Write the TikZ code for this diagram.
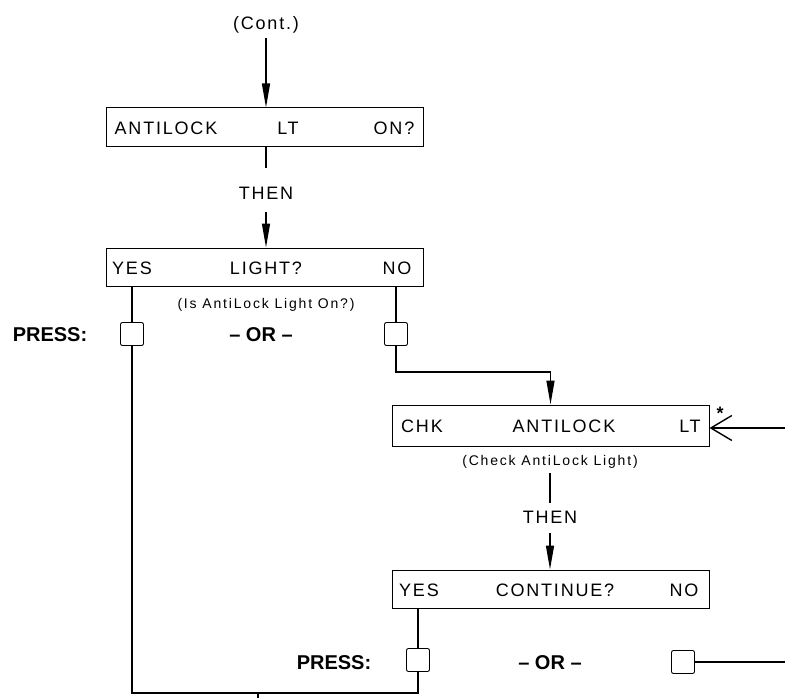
\documentclass[tikz,border=0pt]{standalone}
\usepackage{fontspec}
\setmainfont{Liberation Sans}
\newfontfamily\boxfont[LetterSpace=10]{Liberation Sans}
\newfontfamily\capfont[LetterSpace=13]{Liberation Sans}
\usetikzlibrary{arrows.meta}
\begin{document}
\begin{tikzpicture}[x=1pt,y=-1pt,
  box/.style={draw,line width=1pt,minimum width=317pt,minimum height=39pt,inner sep=0pt},
  sbox/.style={draw,line width=0.9pt,rounded corners=2pt,minimum size=23pt,inner sep=0pt},
  btxt/.style={font=\boxfont\fontsize{18}{20}\selectfont,inner sep=0pt,anchor=base},
  ctxt/.style={font=\capfont\fontsize{14}{16}\selectfont,inner sep=0pt,anchor=base},
  ptxt/.style={font=\bfseries\fontsize{20}{22}\selectfont,inner sep=0pt,anchor=base},
  ln/.style={line width=1.4pt},
  arr/.style={line width=1.4pt,-{Triangle[length=24pt,width=8pt]}},
  barb/.style={line width=1.4pt,-{Straight Barb[length=21pt,width=25pt,line width=1.4pt]}}]
\useasboundingbox (0,0) rectangle (785,698);
% top
\node[btxt] (cont) at (266,30) {(Cont.)};
\coordinate (c1) at (266,38);
\node[box] (b1) at (265,127.5) {};
\node[btxt] (b1a) at (166,134.5) {ANTILOCK};
\node[btxt] (b1b) at (288,134.5) {LT};
\node[btxt] (b1c) at (394,134.5) {ON?};
\draw[arr] (c1) -- (c1 |- b1.north);
\coordinate (t1top) at (266,168);
\node[btxt] (then1) at (266,200) {THEN};
\coordinate (t1bot) at (266,212);
\draw[ln] (t1top |- b1.south) -- (t1top);
% box 2
\node[box,minimum height=38pt] (b2) at (265,267) {};
\draw[arr] (t1bot) -- (t1bot |- b2.north);
\node[btxt] (b2a) at (132,274) {YES};
\node[btxt] (b2b) at (266,274) {LIGHT?};
\node[btxt] (b2c) at (397,274) {NO};
\node[ctxt] (cap2) at (266,308) {(Is AntiLock Light On?)};
\node[ptxt] (press1) at (50,341) {PRESS:};
\node[ptxt] (or1) at (261,341) {– OR –};
\node[sbox] (sb1) at (132,334) {};
\node[sbox] (sb2) at (396,334) {};
\draw[ln] (sb1 |- b2.south) -- (sb1.north);
\draw[ln] (sb2 |- b2.south) -- (sb2.north);
% box 3
\node[box,minimum width=317pt,minimum height=41pt] (b3) at (550.5,425.5) {};
\node[btxt] (b3a) at (422,432.5) {CHK};
\node[btxt] (b3b) at (564,432.5) {ANTILOCK};
\node[btxt] (b3c) at (690,432.5) {LT};
\node[font=\bfseries\fontsize{18}{20}\selectfont,inner sep=0pt] (star) at (720,413) {*};
\coordinate (jn) at (396,372);
\draw[arr] (sb2.south) -- (jn) -| (b3.north);
\coordinate (inr) at (785,428);
\draw[barb] (inr) -- (inr -| b3.east);
\node[ctxt] (cap3) at (550,465) {(Check AntiLock Light)};
\coordinate (t2top) at (550,473);
\coordinate (t2mid) at (550,503);
\node[btxt] (then2) at (550,523.5) {THEN};
\coordinate (t2bot) at (550,533);
\draw[ln] (t2top) -- (t2mid);
% box 4
\node[box,minimum height=38pt] (b4) at (550.5,589) {};
\draw[arr] (t2bot) -- (t2bot |- b4.north);
\node[btxt] (b4a) at (419,596) {YES};
\node[btxt] (b4b) at (555,596) {CONTINUE?};
\node[btxt] (b4c) at (684,596) {NO};
\node[ptxt] (press2) at (334,669) {PRESS:};
\node[ptxt] (or2) at (550,669) {– OR –};
\node[sbox] (sb3) at (418,660) {};
\node[sbox] (sb4) at (683,662) {};
\draw[ln] (sb3 |- b4.south) -- (sb3.north);
\coordinate (bl) at (132,693);
\coordinate (br) at (418,693);
\draw[ln] (sb1.south) -- (bl) -- (br) -- (sb3.south);
\coordinate (tk) at (258,693);
\coordinate (tkb) at (258,698);
\draw[ln] (tk) -- (tkb);
\coordinate (outr) at (785,662);
\draw[ln] (sb4.east) -- (outr);
\end{tikzpicture}
\end{document}
